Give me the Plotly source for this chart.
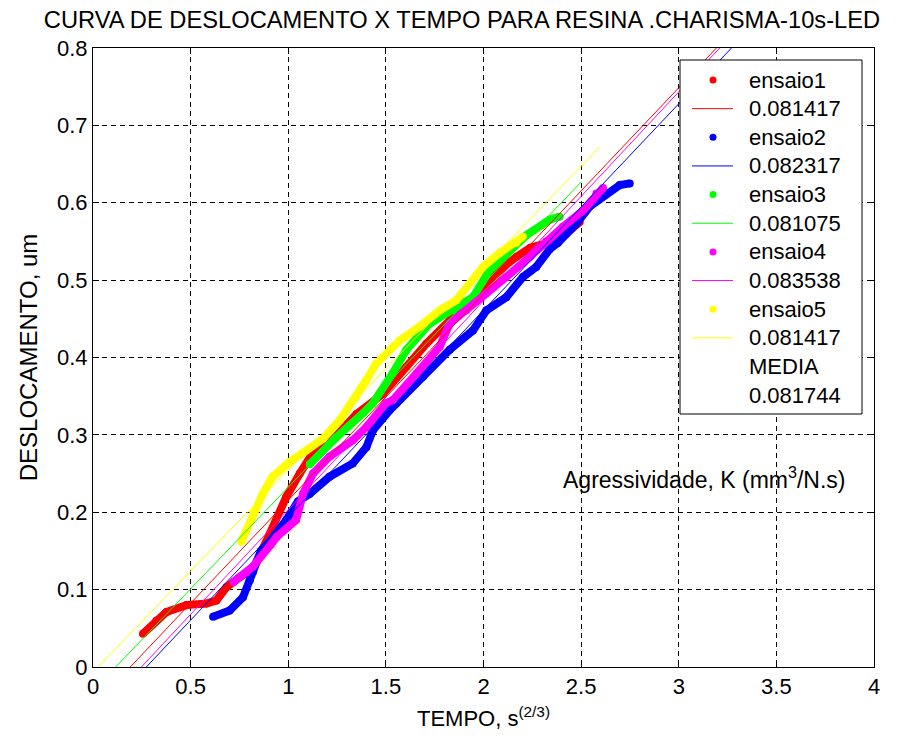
import plotly.graph_objects as go

# ---- data ----
e1_x = [0.256, 0.325, 0.376, 0.478, 0.581, 0.632, 0.683, 0.751, 0.82, 0.905, 0.99, 1.059, 1.144, 1.22, 1.35,
        1.485, 1.605, 1.708, 1.827, 1.90, 1.99, 2.083, 2.168, 2.24, 2.33, 2.424, 2.493]
e1_y = [0.043, 0.060, 0.071, 0.080, 0.082, 0.086, 0.103, 0.116, 0.127, 0.172, 0.22, 0.25, 0.284, 0.292, 0.327,
        0.353, 0.388, 0.418, 0.448, 0.465, 0.49, 0.513, 0.53, 0.542, 0.548, 0.56, 0.575]

e2_x = [0.615, 0.70, 0.768, 0.803, 0.82, 0.86, 0.905, 0.99, 1.05, 1.11, 1.212, 1.33, 1.40, 1.434, 1.52, 1.554,
        1.69, 1.827, 1.946, 2.015, 2.117, 2.202, 2.27, 2.339, 2.38, 2.476, 2.544, 2.63, 2.698, 2.749]
e2_y = [0.065, 0.073, 0.090, 0.112, 0.123, 0.150, 0.162, 0.19, 0.214, 0.224, 0.246, 0.263, 0.284, 0.306, 0.332, 0.341,
        0.375, 0.41, 0.435, 0.461, 0.478, 0.504, 0.517, 0.54, 0.548, 0.573, 0.595, 0.612, 0.623, 0.625]

e3_x = [1.11, 1.247, 1.383, 1.434, 1.536, 1.605, 1.725, 1.844, 1.946, 2.032, 2.117, 2.22, 2.339, 2.39]
e3_y = [0.262, 0.297, 0.328, 0.341, 0.38, 0.41, 0.444, 0.461, 0.478, 0.513, 0.535, 0.558, 0.578, 0.582]

e4_x = [0.72, 0.786, 0.82, 0.91, 0.94, 1.04, 1.076, 1.127, 1.212, 1.33, 1.40, 1.50, 1.536, 1.656, 1.776, 1.827,
        1.912, 2.015, 2.117, 2.237, 2.32, 2.407, 2.51, 2.578, 2.612]
e4_y = [0.11, 0.122, 0.13, 0.158, 0.168, 0.19, 0.224, 0.25, 0.272, 0.293, 0.31, 0.341, 0.345, 0.379, 0.414, 0.444,
        0.461, 0.483, 0.504, 0.53, 0.55, 0.569, 0.59, 0.612, 0.619]

e5_x = [0.76, 0.82, 0.87, 0.92, 1.007, 1.093, 1.178, 1.264, 1.349, 1.40, 1.45, 1.571, 1.673, 1.776, 1.861, 1.93,
        1.997, 2.083, 2.168, 2.202]
e5_y = [0.162, 0.198, 0.224, 0.246, 0.265, 0.28, 0.295, 0.319, 0.349, 0.371, 0.392, 0.422, 0.44, 0.461, 0.474, 0.496,
        0.517, 0.535, 0.548, 0.556]

# fitted lines (start / end)
f1_x = [0.191, 3.193]; f1_y = [0.0, 0.8]
f2_x = [0.273, 3.27];  f2_y = [0.0, 0.8]
f3_x = [0.116, 2.501]; f3_y = [0.0, 0.627]
f4_x = [0.248, 3.21];  f4_y = [0.0, 0.8]
f5_x = [0.026, 2.595]; f5_y = [0.0, 0.672]

names = ["ensaio1", "ensaio2", "ensaio3", "ensaio4", "ensaio5"]
k_labels = ["0.081417", "0.082317", "0.081075", "0.083538", "0.081417"]
media_label = "MEDIA"
media_value = "0.081744"
colors = ["#ff0000", "#0000ff", "#00ff00", "#ff00ff", "#ffff00"]

data_x = [e1_x, e2_x, e3_x, e4_x, e5_x]
data_y = [e1_y, e2_y, e3_y, e4_y, e5_y]
fit_x = [f1_x, f2_x, f3_x, f4_x, f5_x]
fit_y = [f1_y, f2_y, f3_y, f4_y, f5_y]

x_ticks = [0, 0.5, 1, 1.5, 2, 2.5, 3, 3.5, 4]
y_ticks = [0, 0.1, 0.2, 0.3, 0.4, 0.5, 0.6, 0.7, 0.8]

FONT = "Liberation Sans, Arial, sans-serif"

fig = go.Figure()

for i in range(5):
    fig.add_trace(go.Scatter(x=data_x[i], y=data_y[i], mode="lines+markers", name=names[i],
                             line=dict(color=colors[i], width=8),
                             marker=dict(color=colors[i], size=8),
                             showlegend=False))
for i in range(5):
    fig.add_trace(go.Scatter(x=fit_x[i], y=fit_y[i], mode="lines", name=k_labels[i],
                             line=dict(color=colors[i], width=1), showlegend=False))

axis_common = dict(
    showline=True, linecolor="black", linewidth=1, mirror="ticks",
    ticks="inside", ticklen=6, tickcolor="black",
    showgrid=True, gridcolor="black", gridwidth=1, griddash="5px,4px",
    zeroline=False, automargin=False,
    tickfont=dict(family=FONT, size=22, color="black"),
)

fig.update_xaxes(range=[0, 4], tickvals=x_ticks, ticktext=[f"{v:g}" for v in x_ticks],
                 title=dict(text="TEMPO, s<sup>(2/3)</sup>", font=dict(family=FONT, size=22, color="black"),
                            standoff=12),
                 **axis_common)
fig.update_yaxes(range=[0, 0.8], tickvals=y_ticks, ticktext=[f"{v:g}" for v in y_ticks],
                 title=dict(text="DESLOCAMENTO, um", font=dict(family=FONT, size=24, color="black"),
                            standoff=12),
                 **axis_common)

# ---- legend box (drawn in paper coordinates, MATLAB style) ----
PX0, PX1, PY0, PY1 = 93.0, 874.0, 48.0, 667.0   # plot area in page pixels


def px(xp):
    return (xp - PX0) / (PX1 - PX0)


def py(yp):
    return (PY1 - yp) / (PY1 - PY0)


shapes = [dict(type="rect", xref="paper", yref="paper", x0=px(680), x1=px(862), y0=py(414), y1=py(60),
               line=dict(color="black", width=1), fillcolor="white", layer="above")]
annotations = []
entries = []
for i in range(5):
    entries.append(("dot", colors[i], names[i]))
    entries.append(("line", colors[i], k_labels[i]))
entries.append((None, None, media_label))
entries.append((None, None, media_value))

row0, row_gap = 80.0, 28.65
for k, (kind, col, label) in enumerate(entries):
    yc = row0 + row_gap * k
    if kind == "dot":
        shapes.append(dict(type="circle", xref="paper", yref="paper",
                           x0=px(713 - 3.5), x1=px(713 + 3.5), y0=py(yc + 3.5), y1=py(yc - 3.5),
                           fillcolor=col, line=dict(color=col, width=0), layer="above"))
    elif kind == "line":
        shapes.append(dict(type="line", xref="paper", yref="paper",
                           x0=px(692), x1=px(733), y0=py(yc), y1=py(yc),
                           line=dict(color=col, width=1), layer="above"))
    annotations.append(dict(x=px(747), y=py(yc), xref="paper", yref="paper", xanchor="left",
                            yanchor="middle", text=label, showarrow=False,
                            font=dict(family=FONT, size=22, color="black")))

annotations.append(dict(x=px(704), y=py(478), xref="paper", yref="paper",
                        text="Agressividade, K (mm<sup>3</sup>/N.s)", showarrow=False,
                        xanchor="center", yanchor="middle",
                        font=dict(family=FONT, size=23, color="black")))

W, H = 893, 724
fig.update_layout(
    width=W, height=H,
    margin=dict(l=85, r=W - (PX1 - 8), t=40, b=H - (PY1 - 8)),
    paper_bgcolor="white", plot_bgcolor="white",
    title=dict(text="CURVA DE DESLOCAMENTO X TEMPO PARA RESINA .CHARISMA-10s-LED",
               x=(462 - 8) / W, xanchor="center", y=1 - 12 / H, yanchor="middle",
               font=dict(family=FONT, size=23.7, color="black")),
    shapes=shapes, annotations=annotations,
    showlegend=False,
)

fig.write_html("out.html")
